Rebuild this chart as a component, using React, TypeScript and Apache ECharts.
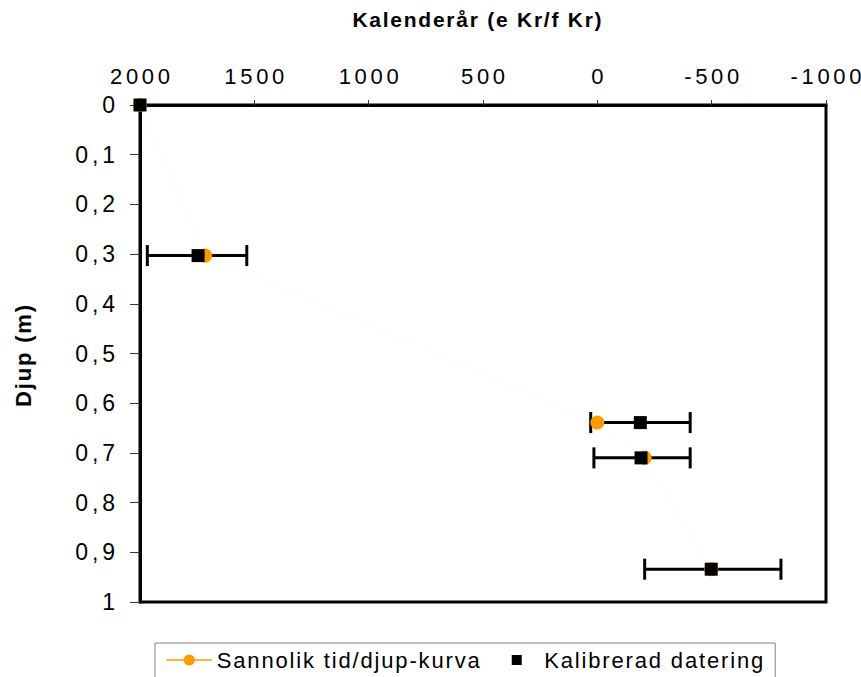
import React, { useEffect, useRef } from 'react';
import * as echarts from 'echarts';

const FONT = '"Liberation Sans", Arial, Helvetica, sans-serif';

// Axis ranges / ticks
const xMin = -1000;
const xMax = 2000;
const xStep = 500;
const yMin = 0;
const yMax = 1;
const yStep = 0.1;

// "Sannolik tid/djup-kurva" (probable age/depth curve)
const curveYears = [2000, 1715, 0, -207, -498];
const curveDepths = [0, 0.303, 0.639, 0.71, 0.934];

// "Kalibrerad datering" (calibrated dates)
const calYears = [2000, 1746, -188, -191, -498];
const calDepths = [0, 0.303, 0.639, 0.71, 0.934];

// error bars of the calibrated dates
const errDepths = [0.303, 0.639, 0.71, 0.934];
const errOld = [1968, 29, 15, -207];
const errYoung = [1533, -406, -406, -803];

const xTitle = 'Kalenderår (e Kr/f Kr)';
const yTitle = 'Djup (m)';
const curveName = 'Sannolik tid/djup-kurva';
const calName = 'Kalibrerad datering';

const HAIR = '\u200A';
const spaced = (s: string, c: string) => Array.from(s).join(c);

export default function App() {
  const ref = useRef<HTMLDivElement>(null);

  useEffect(() => {
    document.body.style.margin = '0';
    if (!ref.current) return;
    const chart = echarts.init(ref.current, undefined, { renderer: 'svg' });

    const option: any = {
      animation: false,
      backgroundColor: '#ffffff',
      grid: {
        left: 140,
        right: 35,
        top: 105,
        bottom: 75,
        show: true,
        borderColor: '#000',
        borderWidth: 3,
        backgroundColor: 'transparent',
        containLabel: false,
        outerBoundsMode: 'none',
      },
      xAxis: {
        type: 'value',
        position: 'top',
        inverse: true,
        min: xMin,
        max: xMax,
        interval: xStep,
        axisLine: { show: true, onZero: false, lineStyle: { color: '#000', width: 3 } },
        axisTick: { show: true, inside: false, length: 5, lineStyle: { color: '#333', width: 1 } },
        splitLine: { show: false },
        axisLabel: {
          margin: 18,
          color: '#000',
          fontFamily: FONT,
          fontSize: 22,
          showMinLabel: true,
          showMaxLabel: true,
          hideOverlap: false,
          formatter: (v: number) => spaced(String(v), HAIR + HAIR),
        },
      },
      yAxis: {
        type: 'value',
        inverse: true,
        min: yMin,
        max: yMax,
        interval: yStep,
        axisLine: { show: true, onZero: false, lineStyle: { color: '#000', width: 3 } },
        axisTick: { show: true, inside: false, length: 10, lineStyle: { color: '#333', width: 1 } },
        splitLine: { show: false },
        axisLabel: {
          margin: 25,
          color: '#000',
          fontFamily: FONT,
          fontSize: 23,
          formatter: (v: number) => {
            const r = Math.round(v * 10) / 10;
            const s = r === 0 ? '0' : r === 1 ? '1' : r.toFixed(1).replace('.', ',');
            return spaced(s, HAIR + HAIR);
          },
        },
      },
      legend: {
        left: 155,
        top: 643,
        orient: 'horizontal',
        backgroundColor: '#fff',
        borderColor: '#808080',
        borderWidth: 1,
        padding: [6, 12, 8, 11],
        itemGap: 30,
        itemWidth: 45,
        itemHeight: 14,
        textStyle: { fontFamily: FONT, fontSize: 22, color: '#000' },
        formatter: (n: string) => spaced(n, HAIR),
        data: [
          { name: curveName, lineStyle: { color: '#FF9900', width: 1.5, opacity: 1 } },
          { name: calName, icon: 'path://M0,0L0.01,0M0,14L0.01,14M14,14L14,13.99M2,2H12V12H2Z' },
        ],
      },
      graphic: [
        {
          type: 'text',
          x: 477,
          y: 19,
          style: {
            text: spaced(xTitle, HAIR),
            font: `bold 21px ${FONT}`,
            fill: '#000',
            align: 'center',
            verticalAlign: 'middle',
          },
        },
        {
          type: 'text',
          x: 23,
          y: 356,
          rotation: Math.PI / 2,
          style: {
            text: spaced(yTitle, HAIR),
            font: `bold 22px ${FONT}`,
            fill: '#000',
            align: 'center',
            verticalAlign: 'middle',
          },
        },
      ],
      series: [
        {
          type: 'custom',
          name: 'err',
          z: 2,
          data: errDepths.map((d, i) => [errOld[i], errYoung[i], d]),
          encode: { x: [0, 1], y: 2 },
          renderItem: (params: any, api: any) => {
            const d = api.value(2);
            const p1 = api.coord([api.value(0), d]);
            const p2 = api.coord([api.value(1), d]);
            const h = 10.5;
            const st = { stroke: '#000', lineWidth: 3 };
            return {
              type: 'group',
              children: [
                { type: 'line', shape: { x1: p1[0], y1: p1[1], x2: p2[0], y2: p2[1] }, style: st },
                { type: 'line', shape: { x1: p1[0], y1: p1[1] - h, x2: p1[0], y2: p1[1] + h }, style: st },
                { type: 'line', shape: { x1: p2[0], y1: p2[1] - h, x2: p2[0], y2: p2[1] + h }, style: st },
              ],
            };
          },
        },
        {
          type: 'line',
          name: curveName,
          z: 3,
          data: curveYears.map((y, i) => [y, curveDepths[i]]),
          symbol: 'circle',
          symbolSize: 14,
          showAllSymbol: true,
          itemStyle: { color: '#FF9900', opacity: 1 },
          lineStyle: { color: 'rgba(235,215,180,0.1)', width: 1 },
        },
        {
          type: 'scatter',
          name: calName,
          z: 4,
          data: calYears.map((y, i) => [y, calDepths[i]]),
          symbol: 'rect',
          symbolSize: 13,
          itemStyle: { color: '#000', opacity: 1 },
        },
      ],
    };

    chart.setOption(option);
    return () => chart.dispose();
  }, []);

  return <div ref={ref} style={{ width: 861, height: 677 }} />;
}
